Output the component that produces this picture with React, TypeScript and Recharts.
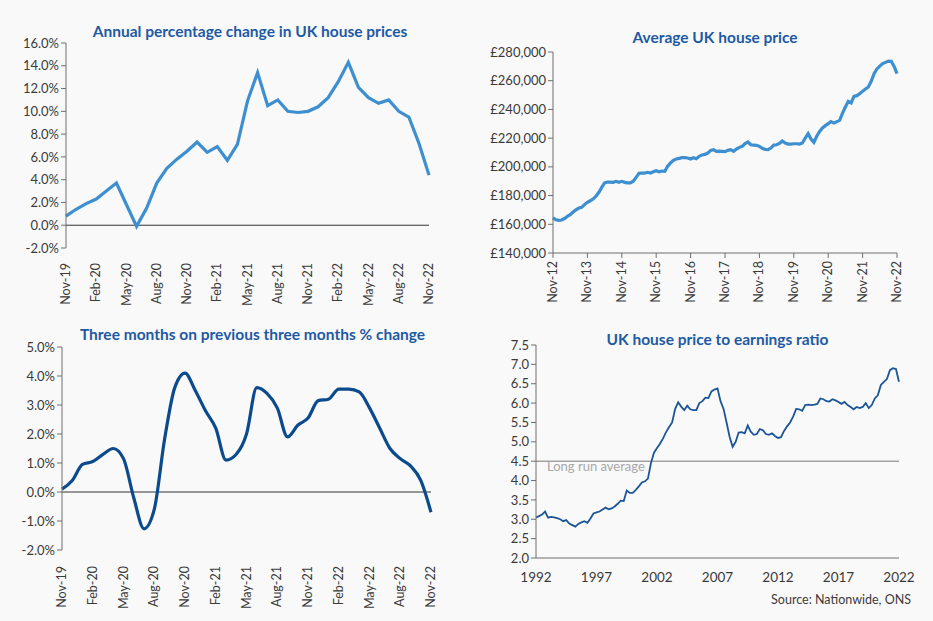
import React from 'react';
import {
  LineChart,
  Line,
  XAxis,
  YAxis,
  ReferenceLine,
} from 'recharts';

// ---- data ----
const shortMonths = ['Nov-19', 'Dec-19', 'Jan-20', 'Feb-20', 'Mar-20', 'Apr-20', 'May-20', 'Jun-20', 'Jul-20', 'Aug-20', 'Sep-20', 'Oct-20', 'Nov-20', 'Dec-20', 'Jan-21', 'Feb-21', 'Mar-21', 'Apr-21', 'May-21', 'Jun-21', 'Jul-21', 'Aug-21', 'Sep-21', 'Oct-21', 'Nov-21', 'Dec-21', 'Jan-22', 'Feb-22', 'Mar-22', 'Apr-22', 'May-22', 'Jun-22', 'Jul-22', 'Aug-22', 'Sep-22', 'Oct-22', 'Nov-22'];

const annualChange = [0.8, 1.4, 1.9, 2.3, 3.0, 3.7, 1.8, -0.1, 1.5, 3.7, 5.0, 5.8, 6.5, 7.3, 6.4, 6.9, 5.7, 7.1, 10.9, 13.4, 10.5, 11.0, 10.0, 9.9, 10.0, 10.4, 11.2, 12.6, 14.3, 12.1, 11.2, 10.7, 11.0, 10.0, 9.5, 7.2, 4.4];

const threeMonthChange = [0.1, 0.4, 0.95, 1.05, 1.3, 1.5, 1.15, -0.2, -1.27, -0.6, 1.8, 3.6, 4.1, 3.5, 2.8, 2.2, 1.1, 1.3, 2.0, 3.6, 3.4, 2.9, 1.9, 2.3, 2.55, 3.15, 3.2, 3.55, 3.55, 3.45, 2.9, 2.2, 1.5, 1.15, 0.9, 0.4, -0.7];

// monthly average price, Nov-12 .. Nov-22
const priceStart = { year: 2012, month: 10 };
const avgPrice = [
  164400, 163200, 162700, 163000, 164000, 165500, 166700, 168500, 170000, 171300, 171800, 173700,
  175300, 176400, 177600, 179500, 182300, 185700, 188800, 189400, 189400, 189200, 189900, 189200,
  189900, 189200, 188800, 188800, 190000, 192700, 195500, 195700, 195700, 196200, 195700, 196600,
  197300, 196600, 197100, 196900, 200400, 202700, 204500, 205500, 205900, 206400, 206400, 206200,
  205500, 206400, 205700, 207300, 208300, 208700, 209600, 211500, 212000, 210800, 211000, 210800,
  210600, 211500, 212000, 210800, 212400, 213600, 214300, 216200, 217300, 215400, 215200, 215000,
  214300, 212900, 212200, 212000, 213100, 215200, 215400, 216400, 218000, 216600, 215900, 215900,
  216100, 216100, 215900, 216600, 220100, 223100, 219400, 217100, 221300, 224700, 227100, 228700,
  230100, 231500, 230500, 231500, 232400, 237500, 241700, 245600, 244500, 249100, 249600, 251000,
  252600, 254200, 255600, 259600, 264900, 268200, 270200, 271900, 272800, 273700, 273500, 270000,
  264900,
];

// quarterly house price to earnings ratio, 1992 .. 2022
const ratioStartYear = 1992;
const earningsRatio = [
  3.05, 3.08, 3.12, 3.2, 3.04, 3.06, 3.05, 3.03, 3.0, 2.95, 2.98, 2.89,
  2.85, 2.81, 2.88, 2.92, 2.95, 2.91, 3.02, 3.15, 3.18, 3.2, 3.25, 3.3,
  3.26, 3.28, 3.33, 3.4, 3.48, 3.47, 3.74, 3.68, 3.68, 3.76, 3.85, 3.95,
  3.98, 4.05, 4.45, 4.72, 4.84, 4.95, 5.09, 5.25, 5.38, 5.5, 5.85, 6.02,
  5.91, 5.82, 5.93, 5.84, 5.82, 5.82, 6.0, 6.05, 6.14, 6.13, 6.3, 6.35,
  6.38, 6.05, 5.85, 5.5, 5.13, 4.87, 5.0, 5.24, 5.25, 5.22, 5.42, 5.26,
  5.18, 5.2, 5.33, 5.3, 5.2, 5.18, 5.22, 5.15, 5.1, 5.12, 5.28, 5.4,
  5.5, 5.65, 5.85, 5.84, 5.8, 5.95, 5.96, 5.95, 5.96, 5.98, 6.12, 6.1,
  6.05, 6.04, 6.1, 6.07, 6.03, 5.98, 6.03, 5.95, 5.9, 5.84, 5.9, 5.87,
  5.9, 6.0, 5.87, 5.95, 6.12, 6.2, 6.47, 6.55, 6.62, 6.85, 6.9, 6.88,
  6.55,
];
const longRunAverage = 4.5;
const ratioTicks = [1992, 1997, 2002, 2007, 2012, 2017, 2022];

const pctTicksAnnual = [-2, 0, 2, 4, 6, 8, 10, 12, 14, 16];
const pctTicksThree = [-2, -1, 0, 1, 2, 3, 4, 5];
const priceTicks = [140000, 160000, 180000, 200000, 220000, 240000, 260000, 280000];
const ratioYTicks = [2, 2.5, 3, 3.5, 4, 4.5, 5, 5.5, 6, 6.5, 7, 7.5];

const MON = ['Jan', 'Feb', 'Mar', 'Apr', 'May', 'Jun', 'Jul', 'Aug', 'Sep', 'Oct', 'Nov', 'Dec'];

const annualData = shortMonths.map((m, i) => ({ m, v: annualChange[i] }));
const threeData = shortMonths.map((m, i) => ({ m, v: threeMonthChange[i] }));
const priceData = avgPrice.map((v, i) => {
  const mm = priceStart.month + i;
  const y = priceStart.year + Math.floor(mm / 12);
  return { m: `${MON[mm % 12]}-${String(y).slice(2)}`, v };
});
const ratioData = earningsRatio.map((v, i) => ({ t: ratioStartYear + i / 4, v }));

// ---- styles ----
const FONT = 'Lato, "Open Sans", sans-serif';
const TEXT = '#3a3a3a';
const AXIS = '#6e6e6e';
const TITLE = '#1e5aa3';
const tickStyle = { fontSize: 13, fill: TEXT, fontFamily: FONT };

const titleStyle = (left: number, top: number, w: number): React.CSSProperties => ({
  position: 'absolute',
  left,
  top,
  width: w,
  textAlign: 'center',
  color: TITLE,
  fontFamily: FONT,
  fontWeight: 700,
  fontSize: 15.5,
  whiteSpace: 'nowrap',
});

const VertTick = (props: any) => {
  const { x, y, payload } = props;
  return (
    <text x={x} y={y} transform={`rotate(-90 ${x} ${y})`} textAnchor="end" dy={4} fill={TEXT} fontSize={12.5} fontFamily={FONT}>
      {payload.value}
    </text>
  );
};

export default function App() {
  return (
    <div style={{ position: 'relative', width: 933, height: 621, background: '#f9f9f9', overflow: 'hidden' }}>
      <style>{'body{margin:0}'}</style>

      {/* Annual % change */}
      <div style={titleStyle(40, 22, 420)}>Annual percentage change in UK house prices</div>
      <div style={{ position: 'absolute', left: 0, top: 0 }}>
        <LineChart width={466} height={310} data={annualData} margin={{ top: 43, right: 37, bottom: 0, left: 0 }}>
          <XAxis dataKey="m" interval={2} axisLine={false} tickLine={false} height={62} tick={<VertTick />} tickMargin={9} />
          <YAxis width={66} domain={[-2, 16]} ticks={pctTicksAnnual} interval={0} tickFormatter={(v) => `${v.toFixed(1)}%`} stroke={AXIS} tickSize={5} tick={tickStyle} />
          <ReferenceLine y={0} stroke="#333" strokeWidth={1} />
          <Line dataKey="v" stroke="#3d8fd0" strokeWidth={3.2} dot={false} isAnimationActive={false} type="linear" />
        </LineChart>
      </div>

      {/* Average price */}
      <div style={titleStyle(500, 28, 430)}>Average UK house price</div>
      <div style={{ position: 'absolute', left: 466, top: 0 }}>
        <LineChart width={467} height={310} data={priceData} margin={{ top: 52, right: 36, bottom: 0, left: 0 }}>
          <XAxis dataKey="m" interval={11} stroke={AXIS} tickSize={5} height={57} tick={<VertTick />} tickMargin={3} />
          <YAxis width={87} domain={[140000, 280000]} ticks={priceTicks} interval={0} tickFormatter={(v) => `£${v.toLocaleString('en-GB')}`} stroke={AXIS} tickSize={5} tick={tickStyle} />
          <Line dataKey="v" stroke="#3d8fd0" strokeWidth={3.2} dot={false} isAnimationActive={false} type="linear" />
        </LineChart>
      </div>

      {/* Three-month change */}
      <div style={titleStyle(40, 325, 425)}>Three months on previous three months % change</div>
      <div style={{ position: 'absolute', left: 0, top: 310 }}>
        <LineChart width={466} height={311} data={threeData} margin={{ top: 37, right: 35, bottom: 0, left: 0 }}>
          <XAxis dataKey="m" interval={2} axisLine={false} tickLine={false} height={71} tick={<VertTick />} tickMargin={10} />
          <YAxis width={62} domain={[-2, 5]} ticks={pctTicksThree} interval={0} tickFormatter={(v) => `${v.toFixed(1)}%`} stroke={AXIS} tickSize={5} tick={tickStyle} />
          <ReferenceLine y={0} stroke="#333" strokeWidth={1} />
          <Line dataKey="v" stroke="#0b4a8c" strokeWidth={3.2} dot={false} isAnimationActive={false} type="monotone" />
        </LineChart>
      </div>

      {/* Price to earnings */}
      <div style={titleStyle(500, 330, 435)}>UK house price to earnings ratio</div>
      <div style={{ position: 'absolute', left: 466, top: 310 }}>
        <LineChart width={467} height={311} data={ratioData} margin={{ top: 35, right: 34, bottom: 0, left: 0 }}>
          <XAxis dataKey="t" type="number" domain={[1992, 2022]} ticks={ratioTicks} interval={0} stroke={AXIS} tickLine={false} height={63} tick={{ ...tickStyle, fontSize: 13.5 }} tickMargin={8} />
          <YAxis width={70} domain={[2, 7.5]} ticks={ratioYTicks} interval={0} tickFormatter={(v) => v.toFixed(1)} stroke={AXIS} tickSize={5} tick={tickStyle} />
          <ReferenceLine
            y={longRunAverage}
            stroke="#a3a3a3"
            strokeWidth={1.6}
            label={{ value: 'Long run average', position: 'insideTopLeft', fill: '#a8a8a8', fontSize: 13, fontFamily: FONT, dx: 6, dy: -4 }}
          />
          <Line dataKey="v" stroke="#1b5597" strokeWidth={1.8} dot={false} isAnimationActive={false} type="linear" />
        </LineChart>
      </div>

      <div style={{ position: 'absolute', right: 22, top: 592, fontFamily: FONT, fontSize: 12.5, color: TEXT }}>
        Source: Nationwide, ONS
      </div>
    </div>
  );
}
